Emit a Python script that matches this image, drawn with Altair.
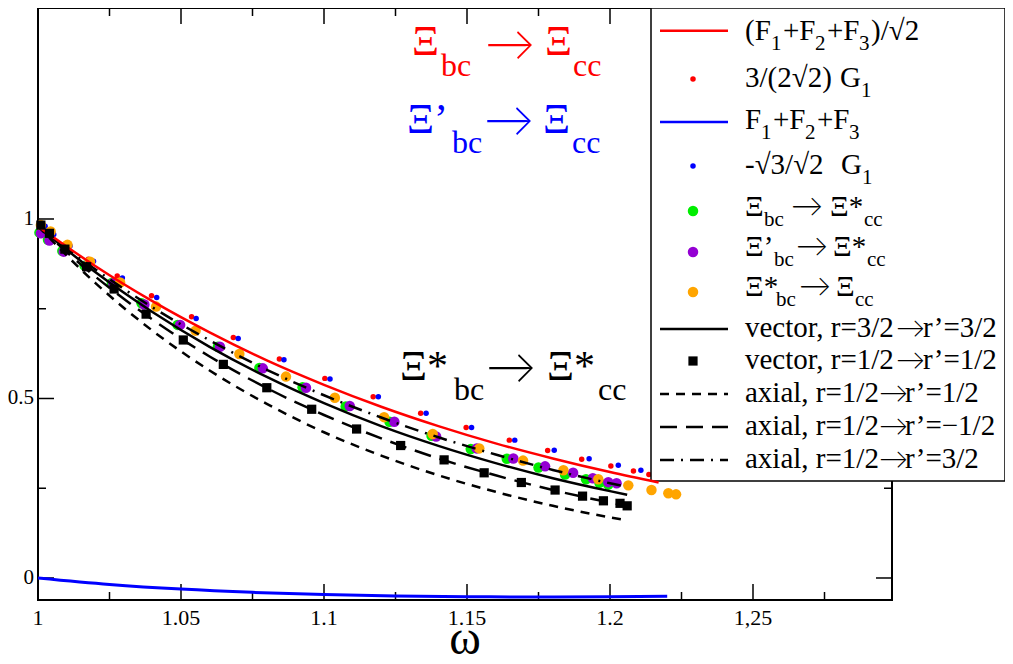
import altair as alt
import pandas as pd

# ---------------- data ----------------
# (F1+F2+F3)/sqrt2  (red line)
red_line_w = [1.0, 1.02, 1.04, 1.06, 1.08, 1.10, 1.12, 1.14, 1.16, 1.18, 1.20, 1.217]
red_line_v = [0.980, 0.869, 0.771, 0.684, 0.606, 0.538, 0.477, 0.423, 0.375, 0.333, 0.295, 0.266]
# F1+F2+F3 (blue line)
blue_line_w = [1.0, 1.025, 1.05, 1.075, 1.1, 1.125, 1.15, 1.175, 1.2, 1.22]
blue_line_v = [0.0, -0.018, -0.031, -0.040, -0.046, -0.050, -0.052, -0.053, -0.052, -0.051]
# black curves
black_w = [1.0, 1.02, 1.04, 1.06, 1.08, 1.10, 1.12, 1.14, 1.16, 1.18, 1.20, 1.206]
vector_32_v = [0.980, 0.852, 0.741, 0.644, 0.560, 0.487, 0.423, 0.368, 0.320, 0.278, 0.242, 0.232]
axial_1212_v = [0.980, 0.822, 0.689, 0.578, 0.485, 0.406, 0.341, 0.286, 0.240, 0.201, 0.169, 0.161]
axial_12m12_v = [0.980, 0.840, 0.720, 0.617, 0.529, 0.454, 0.389, 0.333, 0.286, 0.245, 0.210, 0.200]
axial_1232_v = [0.980, 0.860, 0.754, 0.662, 0.580, 0.509, 0.447, 0.392, 0.344, 0.301, 0.264, 0.254]
# 3/(2sqrt2) G1 (red dots)
red_dot_w = [1.0007, 1.0037, 1.0094, 1.0176, 1.0277, 1.0397, 1.0537, 1.0683, 1.0844, 1.1003,
             1.1172, 1.1338, 1.1497, 1.1648, 1.1782, 1.1901, 1.2003, 1.2082, 1.2136]
red_dot_v = [0.985, 0.962, 0.930, 0.888, 0.841, 0.786, 0.728, 0.670, 0.610, 0.556,
             0.505, 0.459, 0.419, 0.384, 0.355, 0.331, 0.312, 0.298, 0.288]
# -sqrt3/sqrt2 G1 (blue dots)
blue_dot_w = [1.0025, 1.0055, 1.0112, 1.0194, 1.0295, 1.0415, 1.0553, 1.0700, 1.0860, 1.1021,
              1.1190, 1.1357, 1.1516, 1.1667, 1.1805, 1.1927, 1.2029, 1.2108, 1.2163]
blue_dot_v = [0.980, 0.957, 0.925, 0.882, 0.836, 0.781, 0.723, 0.667, 0.608, 0.554,
              0.505, 0.459, 0.419, 0.384, 0.356, 0.332, 0.314, 0.300, 0.289]
# Xi_bc -> Xi*_cc (green)
green_w = [1.0005, 1.0035, 1.0085, 1.0163, 1.0258, 1.0362, 1.0488, 1.0629, 1.0774, 1.0925,
           1.1076, 1.1229, 1.1376, 1.1513, 1.1639, 1.1750, 1.1843, 1.1916, 1.1963, 1.1994]
green_v = [0.962, 0.942, 0.911, 0.870, 0.822, 0.765, 0.705, 0.644, 0.585, 0.531,
           0.478, 0.435, 0.396, 0.359, 0.332, 0.308, 0.288, 0.275, 0.265, 0.260]
# Xi'_bc -> Xi*_cc (purple)
purple_w = [1.001, 1.004, 1.009, 1.017, 1.0263, 1.0372, 1.0497, 1.0636, 1.0786, 1.0937,
            1.109, 1.1246, 1.1392, 1.1534, 1.1662, 1.1773, 1.1871, 1.1940, 1.1994, 1.2023]
purple_v = [0.960, 0.940, 0.909, 0.869, 0.821, 0.762, 0.705, 0.644, 0.584, 0.530,
            0.479, 0.435, 0.394, 0.361, 0.333, 0.311, 0.293, 0.278, 0.267, 0.264]
# Xi*_bc -> Xi_cc (orange)
orange_w = [1.001, 1.0044, 1.0103, 1.0182, 1.0287, 1.0413, 1.0551, 1.0704, 1.0867, 1.1038,
            1.121, 1.138, 1.1543, 1.1696, 1.1837, 1.1959, 1.2064, 1.2145, 1.2204, 1.2231]
orange_v = [0.983, 0.965, 0.928, 0.881, 0.823, 0.756, 0.689, 0.624, 0.561, 0.502,
            0.448, 0.401, 0.361, 0.327, 0.300, 0.275, 0.258, 0.245, 0.236, 0.233]
# vector r=1/2 -> r'=1/2 (black squares)
square_w = [1.001, 1.004, 1.0094, 1.017, 1.0266, 1.0378, 1.0508, 1.0648, 1.08, 1.0957,
            1.1114, 1.1268, 1.142, 1.156, 1.169, 1.1808, 1.1904, 1.1977, 1.2035, 1.206]
square_v = [0.983, 0.960, 0.916, 0.867, 0.805, 0.735, 0.663, 0.595, 0.530, 0.470,
            0.415, 0.369, 0.329, 0.293, 0.266, 0.245, 0.228, 0.215, 0.208, 0.201]

# axis ticks and labels
x_major = [1.0, 1.05, 1.1, 1.15, 1.2, 1.25]
x_minor = [1.025, 1.075, 1.125, 1.175, 1.225, 1.275]
x_tick_labels = ["1", "1.05", "1.1", "1.15", "1.2", "1,25"]
y_major = [0.0, 0.5, 1.0]
y_minor = [0.25, 0.75]
y_tick_labels = ["0", "0.5", "1"]
x_title = "ω"

legend_labels = [
    "(F1+F2+F3)/√2", "3/(2√2) G1", "F1+F2+F3", "-√3/√2  G1",
    "Ξbc → Ξ*cc", "Ξ’bc → Ξ*cc", "Ξ*bc → Ξcc",
    "vector, r=3/2→r’=3/2", "vector, r=1/2→r’=1/2", "axial, r=1/2→r’=1/2",
    "axial, r=1/2→r’=−1/2", "axial, r=1/2→r’=3/2",
]

# ---------------- styles ----------------
RED, BLUE, GREEN, PURPLE, ORANGE, BLACK = "#ff0000", "#0000ff", "#00ee00", "#9400d3", "#ffa500", "#000000"
SHORT_DASH = [9, 7]
LONG_DASH = [17, 9]
DASH_DOT = [14, 7, 2, 7]
FONT = "Liberation Serif"
ARROW_FONT = "Lato"
ARROW_WEIGHT = 300

W, H = 854, 592
X_DOMAIN = [1.0, 1.2986]
Y_DOMAIN = [-0.0613, 1.5877]
xs = alt.Scale(domain=X_DOMAIN, nice=False, zero=False)
ys = alt.Scale(domain=Y_DOMAIN, nice=False, zero=False)


# layout helpers for legend / annotation placement (page pixel -> data coords)
def wx(px):
    return X_DOMAIN[0] + (px - 38) * (X_DOMAIN[1] - X_DOMAIN[0]) / W


def vy(py):
    return Y_DOMAIN[1] - (py - 8) * (Y_DOMAIN[1] - Y_DOMAIN[0]) / H


def X(f="w"):
    return alt.X(f"{f}:Q", scale=xs, axis=None)


def Y(f="v"):
    return alt.Y(f"{f}:Q", scale=ys, axis=None)


def line_layer(ws, vs, color, dash=None, width=2.5):
    kw = dict(color=color, strokeWidth=width, interpolate="monotone")
    if dash:
        kw["strokeDash"] = dash
    return alt.Chart(pd.DataFrame({"w": ws, "v": vs})).mark_line(**kw).encode(x=X(), y=Y())


def point_layer(ws, vs, color, size, shape="circle"):
    return alt.Chart(pd.DataFrame({"w": ws, "v": vs})).mark_point(
        filled=True, color=color, size=size, shape=shape, opacity=1, strokeWidth=0
    ).encode(x=X(), y=Y())


# ---------------- axes: inward ticks + labels ----------------
def xticks(vals, length):
    d = alt.Chart(pd.DataFrame({"w": vals})).mark_rule(color="black", strokeWidth=1.5)
    return [d.encode(x=X(), y=alt.value(H), y2=alt.value(H - length)),
            d.encode(x=X(), y=alt.value(0), y2=alt.value(length))]


def yticks(vals, length):
    d = alt.Chart(pd.DataFrame({"v": vals})).mark_rule(color="black", strokeWidth=1.5)
    return [d.encode(y=Y(), x=alt.value(0), x2=alt.value(length)),
            d.encode(y=Y(), x=alt.value(W), x2=alt.value(W - length))]


ticks = xticks(x_major, 16) + xticks(x_minor, 8) + yticks(y_major, 16) + yticks(y_minor, 8)

x_labels = alt.Chart(pd.DataFrame({"w": x_major, "t": x_tick_labels})).mark_text(
    font=FONT, fontSize=22, align="center", baseline="alphabetic", color="black"
).encode(x=X(), y=alt.value(H + 25), text="t:N")
y_labels = alt.Chart(pd.DataFrame({"v": y_major, "t": y_tick_labels})).mark_text(
    font=FONT, fontSize=21, align="right", baseline="middle", color="black"
).encode(y=Y(), x=alt.value(-4), text="t:N")
x_title_layer = alt.Chart(pd.DataFrame({"t": [x_title]})).mark_text(
    font=FONT, fontSize=48, align="center", baseline="alphabetic", color="black"
).encode(x=alt.value(W / 2), y=alt.value(H + 54), text="t:N")

# ---------------- legend ----------------
rows_y = [30.7, 79, 122, 166, 211, 252, 292, 329, 361, 394, 427, 460]
box = alt.Chart(pd.DataFrame({"w": [wx(651)], "w2": [wx(1005)], "v": [vy(8)], "v2": [vy(481)]})).mark_rect(
    fill="white", stroke="black", strokeWidth=1.5).encode(x=X(), x2="w2:Q", y=Y(), y2="v2:Q")

sym_lines = []
for row, color, dash in [(0, RED, None), (2, BLUE, None), (7, BLACK, None),
                         (9, BLACK, SHORT_DASH), (10, BLACK, LONG_DASH), (11, BLACK, DASH_DOT)]:
    kw = dict(color=color, strokeWidth=2.5)
    if dash:
        kw["strokeDash"] = dash
    sym_lines.append(alt.Chart(pd.DataFrame({"w": [wx(660)], "w2": [wx(728)], "v": [vy(rows_y[row])]}))
                     .mark_rule(**kw).encode(x=X(), x2="w2:Q", y=Y()))

sym_pts = pd.DataFrame({
    "w": [wx(693)] * 6,
    "v": [vy(rows_y[i]) for i in (1, 3, 4, 5, 6, 8)],
    "c": [RED, BLUE, GREEN, PURPLE, ORANGE, BLACK],
    "s": [30, 30, 110, 110, 110, 85],
    "shp": ["circle"] * 5 + ["square"],
})
sym_pt_layer = alt.Chart(sym_pts).mark_point(filled=True, opacity=1, strokeWidth=0).encode(
    x=X(), y=Y(), color=alt.Color("c:N", scale=None), size=alt.Size("s:Q", scale=None),
    shape=alt.Shape("shp:N", scale=None))

MAIN, SUB = 29, 21
lp = [
    (745, 40, "(F", MAIN), (771, 50, "1", SUB), (783, 40, "+F", MAIN), (815, 50, "2", SUB),
    (827, 40, "+F", MAIN), (859, 50, "3", SUB), (871, 40, ")/√2", MAIN),
    (745, 87, "3/(2√2)", MAIN), (840, 87, "G", MAIN), (861, 97, "1", SUB),
    (745, 129, "F", MAIN), (761, 139, "1", SUB), (773, 129, "+F", MAIN), (805, 139, "2", SUB),
    (817, 129, "+F", MAIN), (849, 139, "3", SUB),
    (745, 174, "-√3/√2", MAIN), (841, 174, "G", MAIN), (862, 184, "1", SUB),
    (745, 216, "Ξ", MAIN), (764, 226, "bc", SUB), (830, 216, "Ξ*", MAIN), (864, 226, "cc", SUB),
    (745, 256, "Ξ’", MAIN), (774, 266, "bc", SUB), (833, 256, "Ξ*", MAIN), (867, 266, "cc", SUB),
    (745, 296, "Ξ*", MAIN), (776, 306, "bc", SUB), (836, 296, "Ξ", MAIN), (855, 306, "cc", SUB),
    (745, 337, "vector, r=3/2", MAIN), (923, 337, "r’=3/2", MAIN),
    (745, 369, "vector, r=1/2", MAIN), (923, 369, "r’=1/2", MAIN),
    (745, 402, "axial, r=1/2", MAIN), (905, 402, "r’=1/2", MAIN),
    (745, 435, "axial, r=1/2", MAIN), (905, 435, "r’=−1/2", MAIN),
    (745, 468, "axial, r=1/2", MAIN), (905, 468, "r’=3/2", MAIN),
]
# legend arrows (x, arrow-centre y, font size)
la = [(791, 207, 32), (796, 247, 32), (799, 287, 32),
      (896, 329, 29), (896, 361, 29), (879, 394, 29), (879, 427, 29), (879, 460, 29)]

# ---------------- annotations ----------------
an = [
    (412, 55, "Ξ", 42, RED), (441, 76, "bc", 32, RED),
    (545, 55, "Ξ", 42, RED), (573, 76, "cc", 32, RED),
    (407, 133, "Ξ’", 42, BLUE), (452, 153, "bc", 32, BLUE),
    (543, 133, "Ξ", 42, BLUE), (572, 153, "cc", 32, BLUE),
    (400, 380, "Ξ*", 42, BLACK), (454, 400, "bc", 32, BLACK),
    (547, 380, "Ξ*", 42, BLACK), (598, 400, "cc", 32, BLACK),
]
aa = [(485, 46, 50, RED), (484, 122, 50, BLUE), (486, 369, 50, BLACK)]

text_df = pd.DataFrame({
    "w": [wx(p[0]) for p in lp] + [wx(p[0]) for p in an],
    "v": [vy(p[1]) for p in lp] + [vy(p[1]) for p in an],
    "t": [p[2] for p in lp] + [p[2] for p in an],
    "fs": [p[3] for p in lp] + [p[3] for p in an],
    "c": [BLACK] * len(lp) + [p[4] for p in an],
})
arrow_df = pd.DataFrame({
    "w": [wx(p[0]) for p in la] + [wx(p[0]) for p in aa],
    "v": [vy(p[1]) for p in la] + [vy(p[1]) for p in aa],
    "t": ["→"] * (len(la) + len(aa)),
    "fs": [p[2] for p in la] + [p[2] for p in aa],
    "c": [BLACK] * len(la) + [p[3] for p in aa],
})


def text_layer(df, font, baseline="alphabetic", weight="normal"):
    return alt.Chart(df).mark_text(align="left", baseline=baseline, font=font, fontWeight=weight).encode(
        x=X(), y=Y(), text="t:N", color=alt.Color("c:N", scale=None), size=alt.Size("fs:Q", scale=None))


layers = [
    point_layer(red_dot_w, red_dot_v, RED, 30),
    point_layer(blue_dot_w, blue_dot_v, BLUE, 30),
    point_layer(green_w, green_v, GREEN, 110),
    point_layer(purple_w, purple_v, PURPLE, 110),
    point_layer(orange_w, orange_v, ORANGE, 110),
    *ticks,
    box,
    line_layer(blue_line_w, blue_line_v, BLUE, width=3),
    line_layer(black_w, axial_1212_v, BLACK, SHORT_DASH),
    line_layer(black_w, axial_12m12_v, BLACK, LONG_DASH),
    line_layer(black_w, vector_32_v, BLACK),
    line_layer(black_w, axial_1232_v, BLACK, DASH_DOT),
    line_layer(red_line_w, red_line_v, RED),
    point_layer(square_w, square_v, BLACK, 85, "square"),
    *sym_lines,
    sym_pt_layer,
    text_layer(text_df, FONT),
    text_layer(arrow_df, ARROW_FONT, baseline="middle", weight=ARROW_WEIGHT),
    x_labels,
    y_labels,
    x_title_layer,
]

chart = alt.layer(*layers).properties(
    width=W, height=H,
    autosize=alt.AutoSizeParams(type="none"),
    padding={"left": 30, "top": 0, "right": 113, "bottom": 56},
    background="white",
).configure_view(stroke="black", strokeWidth=2)

chart.save("out.html", embed_options={"renderer": "svg", "actions": False})
